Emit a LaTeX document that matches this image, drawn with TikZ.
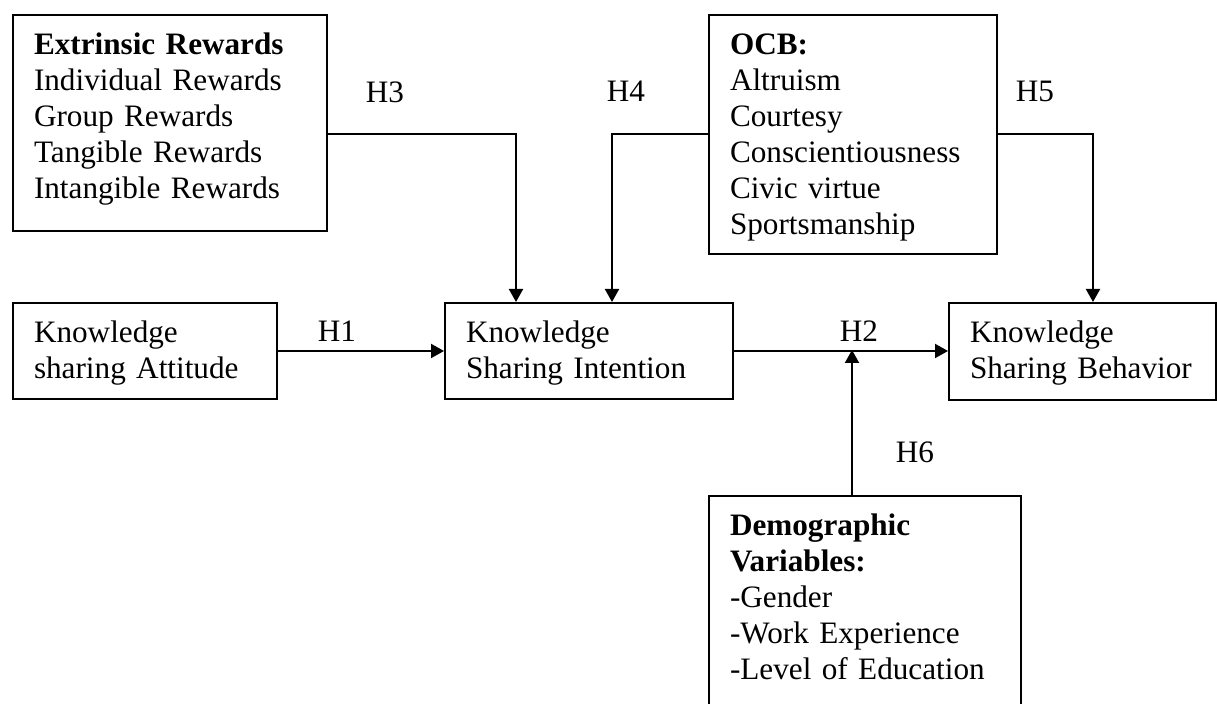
\documentclass[tikz,border=0pt]{standalone}
\usepackage{fontspec}
\setmainfont{Liberation Serif}
\usetikzlibrary{arrows.meta}
\begin{document}
\begin{tikzpicture}[x=0.5pt,y=-0.5pt,
  box/.style={draw, line width=1pt, anchor=north west, inner xsep=10.5pt,
    inner ysep=9.5pt, text height=10.5pt, align=left,
    font=\fontsize{15.6}{18}\selectfont},
  link/.style={line width=1pt, -{Triangle[length=6.5pt,width=7pt]}},
  hyp/.style={inner sep=0pt, font=\fontsize{15.6}{18}\selectfont}]
  % page frame
  \path[use as bounding box, clip] (0,0) rectangle (1217,704);

  % constructs
  \node[box, text width=136pt, text depth=78.5pt] (ext) at (12,14)
    {\textbf{Extrinsic~Rewards}\\ Individual~Rewards\\ Group~Rewards\\
     Tangible~Rewards\\ Intangible~Rewards};
  \node[box, text width=123pt, text depth=90pt] (ocb) at (708,14)
    {\textbf{OCB:}\\ Altruism\\ Courtesy\\ Conscientiousness\\
     Civic~virtue\\ Sportsmanship};
  \node[box, text width=111pt, text depth=18.5pt] (att) at (12,302)
    {Knowledge\\ sharing~Attitude};
  \node[box, text width=123pt, text depth=18.5pt] (int) at (444,302)
    {Knowledge\\ Sharing~Intention};
  \node[box, text width=112.5pt, text depth=19pt] (beh) at (948,302)
    {Knowledge\\ Sharing~Behavior};
  \node[box, text width=135pt, text depth=85pt] (dem) at (708,495)
    {\textbf{Demographic}\\ \textbf{Variables:}\\ -Gender\\
     -Work~Experience\\ -Level~of~Education};

  % bend points of the moderating paths
  \coordinate (h3turn) at (516,134);
  \coordinate (h4turn) at (612,134);
  \coordinate (h5turn) at (1093,134);
  \coordinate (h6end) at (852,350);

  % paths
  \draw[link] (att.east) -- (int.west);
  \draw[link] (int.east) -- (int.east -| beh.west);
  \draw[link] (ext.east |- h3turn) -| (int.north -| h3turn);
  \draw[link] (ocb.west |- h4turn) -| (int.north -| h4turn);
  \draw[link] (ocb.east |- h5turn) -| (beh.north -| h5turn);
  \draw[link] (dem.north -| h6end) -- (h6end);

  % hypothesis labels
  \node[hyp] (H1) at (337,331) {H1};
  \node[hyp] (H2) at (859,331) {H2};
  \node[hyp] (H3) at (385,92) {H3};
  \node[hyp] (H4) at (626,91) {H4};
  \node[hyp] (H5) at (1035,91) {H5};
  \node[hyp] (H6) at (915,452) {H6};
\end{tikzpicture}
\end{document}
